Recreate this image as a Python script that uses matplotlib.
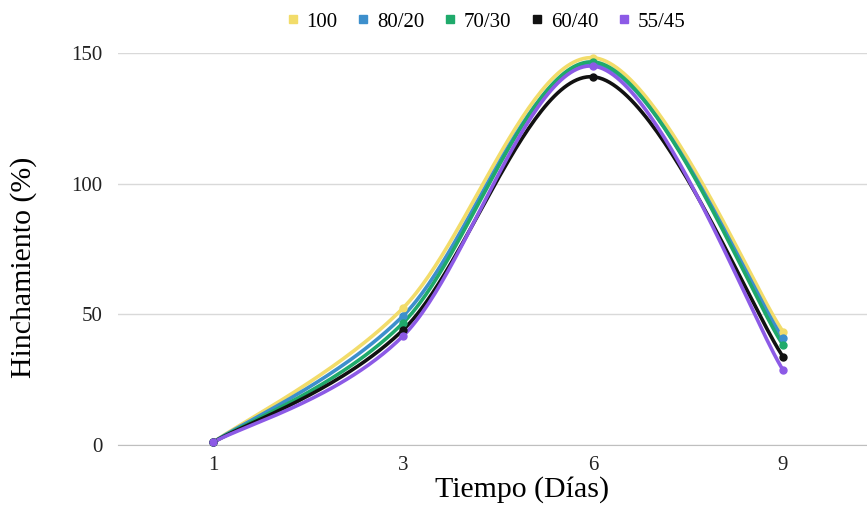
import numpy as np
import matplotlib
matplotlib.use("Agg")
import matplotlib.pyplot as plt
from matplotlib.lines import Line2D

# Swelling data (%) over time for each blend ratio
dias = ["1", "3", "6", "9"]
s_100 = [1.0, 52.4, 148.2, 43.4]
s_80_20 = [1.0, 49.4, 146.0, 40.8]
s_70_30 = [1.0, 46.7, 146.6, 38.3]
s_60_40 = [1.0, 44.0, 140.9, 33.8]
s_55_45 = [1.0, 41.7, 145.0, 28.7]

series_labels = ["100", "80/20", "70/30", "60/40", "55/45"]
series_values = [s_100, s_80_20, s_70_30, s_60_40, s_55_45]
colors = ["#f2dc6a", "#3d8fcc", "#1faa6b", "#111111", "#8c5ae6"]


def smooth(xs, ys, n=60):
    """Cubic Bezier smoothing through every point (spreadsheet-style)."""
    xs = np.asarray(xs, float)
    ys = np.asarray(ys, float)
    pts = np.column_stack([xs, ys])
    out = []
    for i in range(len(pts) - 1):
        p0 = pts[i - 1] if i > 0 else pts[i]
        p1 = pts[i]
        p2 = pts[i + 1]
        p3 = pts[i + 2] if i + 2 < len(pts) else pts[i + 1]
        c1 = p1 + (p2 - p0) / 6.0
        c2 = p2 - (p3 - p1) / 6.0
        t = np.linspace(0, 1, n)[:, None]
        seg = ((1 - t) ** 3) * p1 + 3 * ((1 - t) ** 2) * t * c1 \
            + 3 * (1 - t) * t ** 2 * c2 + t ** 3 * p2
        out.append(seg if i == 0 else seg[1:])
    seg = np.vstack(out)
    return seg[:, 0], seg[:, 1]


plt.rcParams["font.family"] = ["Liberation Serif", "DejaVu Serif"]

fig = plt.figure(figsize=(8.67, 5.11), dpi=100)
W, H = 867, 511
left, right, top, bottom = 118, 878, 53, 445
ax = fig.add_axes([left / W, (H - bottom) / H, (right - left) / W, (bottom - top) / H])

x = np.arange(len(dias))
for vals, col in zip(series_values, colors):
    sx, sy = smooth(x, vals)
    ax.plot(sx, sy, color=col, lw=2.6, solid_capstyle="round", clip_on=False, zorder=3)
    ax.plot(x, vals, "o", color=col, ms=5, clip_on=False, zorder=4)

ax.set_xlim(-0.5, 3.5)
ax.set_ylim(0, 150)
ax.set_yticks([0, 50, 100, 150])
ax.set_xticks(x)
ax.set_xticklabels(dias)
ax.grid(axis="y", color="#d9d9d9", lw=1)
ax.set_axisbelow(True)
for s in ["top", "right", "left"]:
    ax.spines[s].set_visible(False)
ax.spines["bottom"].set_color("#bfbfbf")
ax.tick_params(axis="both", length=0, labelsize=15, colors="#222222")
ax.tick_params(axis="y", pad=11)
ax.tick_params(axis="x", pad=8)

fig.text(522 / W, 1 - 490 / H, "Tiempo (Días)", fontsize=21.5, ha="center", va="center")
fig.text(24 / W, 1 - 267 / H, "Hinchamiento (%)",
         rotation=90, fontsize=21.5, ha="center", va="center")

handles = [Line2D([], [], marker="s", ls="none", color=c, ms=6) for c in colors]
fig.legend(handles, series_labels, loc="center", bbox_to_anchor=(486 / W, 1 - 22 / H),
           ncol=5, frameon=False, fontsize=15, handlelength=0.6, handletextpad=0.35,
           columnspacing=0.95)

fig.savefig("out.png", dpi=100)
